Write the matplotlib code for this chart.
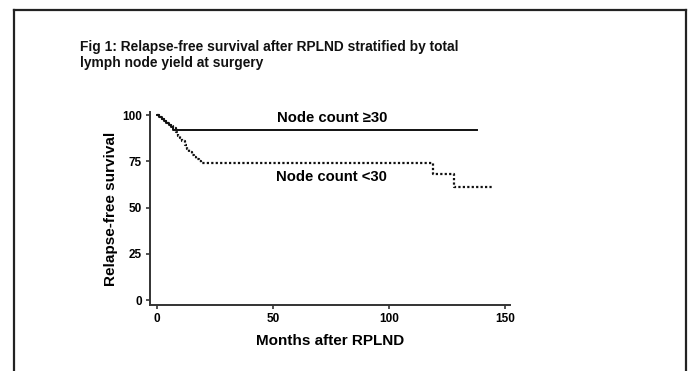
import matplotlib
matplotlib.use("Agg")
import matplotlib.pyplot as plt
from matplotlib.lines import Line2D

# Data
t_high = [0, 1, 2, 3, 4, 5, 6, 7, 138]
s_high = [100, 99, 98, 97, 96, 95, 93.5, 92, 92]

t_low = [0, 1, 2, 3, 4, 5, 6, 7, 8, 9, 10, 11, 12, 13, 14, 15, 16, 17, 18, 19, 119, 128, 145]
s_low = [100, 99, 98, 97, 96, 95, 94, 93, 91, 89, 87.5, 86, 84, 82, 80, 78.5, 77.5, 76.5, 75.5, 74.2, 68, 61, 61]

x_ticks = [0, 50, 100, 150]
y_ticks = [0, 25, 50, 75, 100]

title = "Fig 1: Relapse-free survival after RPLND stratified by total\nlymph node yield at surgery"
label_high = "Node count \u226530"
label_low = "Node count <30"

plt.rcParams['font.family'] = ['Liberation Sans', 'DejaVu Sans']

W, H = 694, 371
fig = plt.figure(figsize=(W / 100, H / 100), dpi=100)

# Border (open at bottom)
bx0, bx1, by = 13.5 / W, 686 / W, 1 - 10 / H
for xs, ys in [([bx0, bx0], [0, by]), ([bx0, bx1], [by, by]), ([bx1, bx1], [by, 0])]:
    fig.add_artist(Line2D(xs, ys, transform=fig.transFigure, color='#222222', lw=1.6))

fig.text(80 / W, 1 - 40 / H, title, ha='left', va='top', fontsize=9.9,
         fontweight='bold', linespacing=1.15, color='#111111')

ax = fig.add_axes([150 / W, (H - 305) / H, 360 / W, 193 / H])
ax.step(t_high, s_high, where='post', color='#111111', lw=1.4)
ax.step(t_low, s_low, where='post', color='#111111', lw=1.6, linestyle=(0, (1, 1)))

ax.set_xlim(-3, 152.2)
ax.set_ylim(-2.7, 101.8)
ax.set_xticks(x_ticks)
ax.set_yticks(y_ticks)
for s in ['top', 'right']:
    ax.spines[s].set_visible(False)
for s in ['left', 'bottom']:
    ax.spines[s].set_linewidth(1.4)
    ax.spines[s].set_color('#333333')
ax.tick_params(direction='out', length=3, width=1.2, color='#333333',
               labelsize=8.5, pad=3)
for lbl in ax.get_xticklabels() + ax.get_yticklabels():
    lbl.set_fontweight('bold')

ax.set_xlabel("Months after RPLND", fontsize=11, fontweight='bold', labelpad=6)
ax.set_ylabel("Relapse-free survival", fontsize=11, fontweight='bold', labelpad=3)

ax.text(75.4, 98.4, label_high, ha='center', va='center', fontsize=10.7, fontweight='bold')
ax.text(75.4, 66.5, label_low, ha='center', va='center', fontsize=10.7, fontweight='bold')

fig.savefig("out.png", dpi=100)
